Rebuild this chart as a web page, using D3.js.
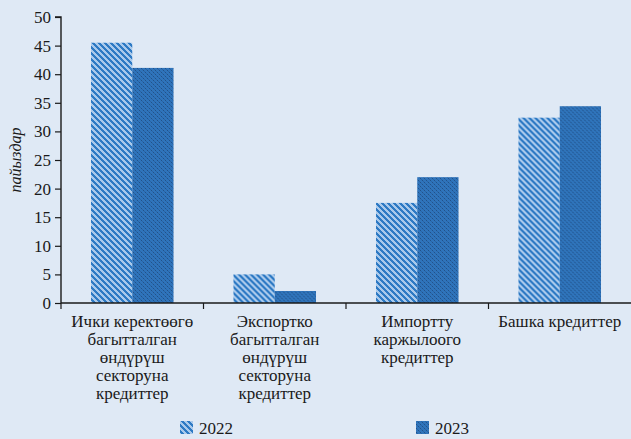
<!DOCTYPE html>
<html>
<head>
<meta charset="utf-8">
<script src="https://cdn.jsdelivr.net/npm/d3@7"></script>
</head>
<body style="margin:0;background:#dfe9f5">
<svg id="s" width="631" height="439"></svg>
<script>
// Categories (multi-line labels) and series
const categories = [
  ["Ички керектөөгө", "багытталган", "өндүрүш", "секторуна", "кредиттер"],
  ["Экспортко", "багытталган", "өндүрүш", "секторуна", "кредиттер"],
  ["Импортту", "каржылоого", "кредиттер"],
  ["Башка кредиттер"]
];
const seriesNames = ["2022", "2023"];
const values2022 = [45.5, 5.0, 17.5, 32.4];
const values2023 = [41.1, 2.1, 22.0, 34.4];
const yTicks = [0, 5, 10, 15, 20, 25, 30, 35, 40, 45, 50];
const yTitle = "пайыздар";

const W = 631, H = 439;
const margin = { left: 61, right: 0, top: 17, bottom: 136 };
const INK = "#1a1a1a";
const svg = d3.select("#s");

const x0 = d3.scaleBand().domain(d3.range(categories.length))
  .range([margin.left, W - margin.right]).paddingInner(0).paddingOuter(0);
const x1 = d3.scaleBand().domain(seriesNames)
  .range([0, x0.bandwidth()]).paddingInner(0).paddingOuter(0.727);
const y = d3.scaleLinear().domain([0, 50]).range([H - margin.bottom, margin.top]);

// All text: one flat list of labels placed through the scales
const texts = [];
yTicks.forEach(t => texts.push({ t: String(t), x: margin.left - 10, y: y(t) + 6, a: "end", s: 17 }));
categories.forEach((lines, i) => {
  const cx = x0(i) + x0.bandwidth() / 2;
  lines.forEach((line, j) => texts.push({ t: line, x: cx, y: y(0) + 24 + j * 18, a: "middle", s: 17 }));
});
const legendX = [180, 416];
seriesNames.forEach((s, k) => texts.push({ t: s, x: legendX[k] + 19, y: 434, a: "start", s: 17 }));

svg.selectAll("text.lbl").data(texts).join("text").attr("class", "lbl")
  .attr("x", d => d.x).attr("y", d => d.y).attr("font-size", d => d.s)
  .attr("text-anchor", d => d.a).attr("fill", INK)
  .style("font-family", '"Liberation Serif"')
  .text(d => d.t);

svg.selectAll("text.ttl").data([yTitle]).join("text").attr("class", "ttl")
  .attr("transform", `translate(21,${(y(0) + y(50)) / 2}) rotate(-90)`)
  .attr("font-size", 16).attr("text-anchor", "middle").attr("fill", INK)
  .style("font-family", '"Liberation Serif"').style("font-style", "italic")
  .text(d => d);

// Fill patterns: diagonal stripes for 2022, fine checker for 2023
const defs = svg.append("defs");
const stripe = defs.append("pattern").attr("id", "pat2022")
  .attr("patternUnits", "userSpaceOnUse").attr("width", 6).attr("height", 6);
stripe.append("rect").attr("width", 6).attr("height", 6).attr("fill", "#a9c9eb");
stripe.append("path").attr("fill", "#2e7ac4").attr("shape-rendering", "crispEdges")
  .attr("d", d3.range(6).map(r => `M${r},${r}h3v1h-3z` + (r > 3 ? `M${r - 6},${r}h3v1h-3z` : "")).join(""));
const check = defs.append("pattern").attr("id", "pat2023")
  .attr("patternUnits", "userSpaceOnUse").attr("width", 4).attr("height", 4);
check.append("rect").attr("width", 4).attr("height", 4).attr("fill", "#2f74bb");
check.append("path").attr("fill", "#22528a").attr("shape-rendering", "crispEdges")
  .attr("d", "M0,0h1v1h-1zM2,2h1v1h-1z");
check.append("path").attr("fill", "#2a65a6").attr("shape-rendering", "crispEdges")
  .attr("d", "M1,1h1v1h-1zM3,3h1v1h-1z");
const fills = ["url(#pat2022)", "url(#pat2023)"];

const rows = categories.map((c, i) => ({ i, vals: [values2022[i], values2023[i]] }));

// Bars
svg.append("g").selectAll("g").data(rows).join("g")
  .attr("transform", d => `translate(${x0(d.i)},0)`)
  .selectAll("rect").data(d => d.vals.map((v, k) => ({ k, v })))
  .join("rect")
  .attr("x", d => x1(seriesNames[d.k]))
  .attr("width", x1.bandwidth())
  .attr("y", d => y(d.v))
  .attr("height", d => y(0) - y(d.v))
  .attr("fill", d => fills[d.k]);

// Y axis (line and ticks; labels drawn above)
const yAxis = svg.append("g").attr("transform", `translate(${margin.left},0)`)
  .call(d3.axisLeft(y).tickValues(yTicks).tickSize(6).tickFormat(""));
yAxis.select(".domain").attr("stroke", INK).attr("stroke-width", 1.4)
  .attr("d", `M-6,${margin.top}H0V${y(0)}`);
yAxis.selectAll(".tick line").attr("stroke", INK).attr("stroke-width", 1.2);

// X axis: baseline with ticks at category boundaries
const bounds = d3.range(categories.length).map(i => x0(i));
const xAxis = svg.append("g");
xAxis.append("line").attr("x1", margin.left).attr("x2", W - margin.right)
  .attr("y1", y(0)).attr("y2", y(0)).attr("stroke", INK).attr("stroke-width", 1.4);
xAxis.selectAll("line").data([null, ...bounds]).join("line")
  .filter(d => d !== null)
  .attr("x1", d => d).attr("x2", d => d).attr("y1", y(0)).attr("y2", y(0) + 6)
  .attr("stroke", INK).attr("stroke-width", 1.2);

// Legend swatches
svg.append("g").selectAll("rect").data(seriesNames).join("rect")
  .attr("x", (d, k) => legendX[k]).attr("y", 421)
  .attr("width", 13).attr("height", 13).attr("fill", (d, k) => fills[k]);
</script>
</body>
</html>
